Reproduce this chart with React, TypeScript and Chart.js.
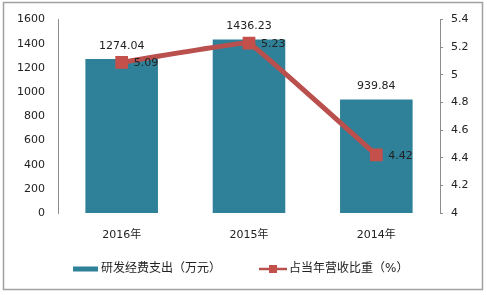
import React, { useEffect, useRef } from "react";
import { Chart, registerables } from "chart.js";

Chart.register(...registerables);

const categories = ["2016年", "2015年", "2014年"];
const rdSpend = [1274.04, 1436.23, 939.84];
const revenueShare = [5.09, 5.23, 4.42];
const barLabel = "研发经费支出（万元）";
const lineLabel = "占当年营收比重（%）";
const leftTicks = { min: 0, max: 1600, step: 200 };
const rightTicks = { min: 4, max: 5.4, step: 0.2 };

const BAR_COLOR = "#2f8199";
const LINE_COLOR = "#b9504d";
const MARK_COLOR = "#c4504c";
const TEXT = "#222222";
const FONT = "'DejaVu Sans', 'Noto Sans CJK SC', sans-serif";

const decorPlugin = {
  id: "decor",
  beforeDraw(chart: any) {
    const ctx = chart.ctx;
    ctx.save();
    ctx.fillStyle = "#ffffff";
    ctx.fillRect(0, 0, chart.width, chart.height);
    ctx.strokeStyle = "#a0a0a0";
    ctx.lineWidth = 1.5;
    ctx.strokeRect(3.5, 2.5, 479, 287);
    ctx.restore();
  },
  afterDatasetsDraw(chart: any) {
    const ctx = chart.ctx;
    ctx.save();
    ctx.font = `11px ${FONT}`;
    ctx.fillStyle = TEXT;
    const barMeta = chart.getDatasetMeta(0);
    barMeta.data.forEach((el: any, i: number) => {
      ctx.textAlign = "center";
      ctx.textBaseline = "middle";
      ctx.fillText(rdSpend[i].toFixed(2), el.x, el.y - 13);
    });
    const lineMeta = chart.getDatasetMeta(1);
    lineMeta.data.forEach((el: any, i: number) => {
      ctx.textAlign = "left";
      ctx.textBaseline = "middle";
      ctx.fillText(String(revenueShare[i]), el.x + 12, el.y + 1);
    });
    ctx.restore();
  },
  afterDraw(chart: any) {
    const ctx = chart.ctx;
    ctx.save();
    const y = 269;
    ctx.fillStyle = BAR_COLOR;
    ctx.fillRect(73, y - 2.5, 25, 5);
    ctx.font = `12px ${FONT}`;
    ctx.fillStyle = TEXT;
    ctx.textAlign = "left";
    ctx.textBaseline = "middle";
    ctx.fillText(chart.data.datasets[0].label, 101, y);
    ctx.strokeStyle = LINE_COLOR;
    ctx.lineWidth = 2.5;
    ctx.beginPath();
    ctx.moveTo(259, y);
    ctx.lineTo(287, y);
    ctx.stroke();
    ctx.fillStyle = MARK_COLOR;
    ctx.fillRect(269, y - 4, 8, 8);
    ctx.fillStyle = TEXT;
    ctx.fillText(chart.data.datasets[1].label, 289, y);
    ctx.restore();
  },
};

export default function App() {
  const ref = useRef<HTMLCanvasElement | null>(null);
  useEffect(() => {
    if (!ref.current) return;
    const chart = new Chart(ref.current, {
      type: "bar",
      data: {
        labels: categories,
        datasets: [
          {
            type: "bar",
            label: barLabel,
            data: rdSpend,
            backgroundColor: BAR_COLOR,
            borderWidth: 0,
            barPercentage: 0.57,
            categoryPercentage: 1,
            yAxisID: "y",
            order: 2,
          },
          {
            type: "line",
            label: lineLabel,
            data: revenueShare,
            borderColor: LINE_COLOR,
            borderWidth: 5,
            tension: 0.04,
            pointStyle: "rect",
            pointRadius: 9,
            pointBackgroundColor: MARK_COLOR,
            pointBorderColor: MARK_COLOR,
            pointBorderWidth: 0,
            yAxisID: "y1",
            order: 1,
          } as any,
        ],
      },
      options: {
        animation: false,
        responsive: false,
        layout: { padding: { top: 17, left: 0, right: 0, bottom: 0 } },
        plugins: { legend: { display: false }, tooltip: { enabled: false } },
        scales: {
          x: {
            grid: { display: false, drawTicks: false },
            border: { display: false },
            ticks: { color: TEXT, font: { family: FONT, size: 11 }, padding: 16 },
            afterFit(scale: any) {
              scale.height = 82;
            },
          },
          y: {
            position: "left",
            min: leftTicks.min,
            max: leftTicks.max,
            grid: { display: false, drawTicks: false },
            border: { display: true, color: "#8c8c8c", width: 1 },
            ticks: {
              stepSize: leftTicks.step,
              color: TEXT,
              font: { family: FONT, size: 11 },
              padding: 13,
              callback: (v: any) => String(v),
            },
            afterFit(scale: any) {
              scale.width = 58;
            },
          },
          y1: {
            position: "right",
            min: rightTicks.min,
            max: rightTicks.max,
            grid: {
              display: true,
              drawOnChartArea: false,
              drawTicks: true,
              tickLength: 3,
              tickColor: "#8c8c8c",
            },
            border: { display: true, color: "#8c8c8c", width: 1 },
            ticks: {
              stepSize: rightTicks.step,
              color: TEXT,
              font: { family: FONT, size: 11 },
              padding: 8,
              callback: (v: any) => String(Math.round(Number(v) * 10) / 10),
            },
            afterFit(scale: any) {
              scale.width = 47;
            },
          },
        },
      },
      plugins: [decorPlugin],
    });
    return () => chart.destroy();
  }, []);
  return (
    <div style={{ position: "absolute", left: 0, top: 0, width: 487, height: 295 }}>
      <canvas ref={ref} width={487} height={295} style={{ width: 487, height: 295 }} />
    </div>
  );
}
